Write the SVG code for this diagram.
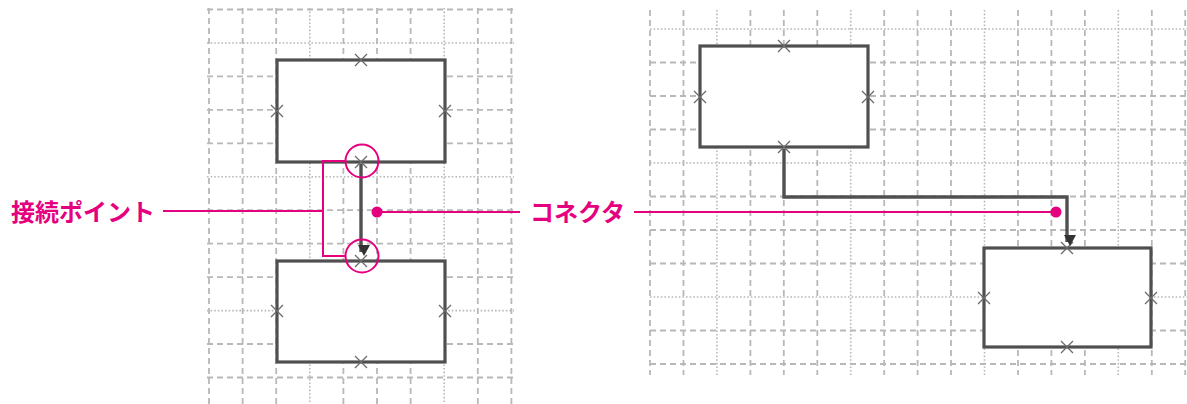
<svg xmlns="http://www.w3.org/2000/svg" width="1187" height="404" viewBox="0 0 1187 404">
<style>
.dash{stroke:#b8b8b8;stroke-width:1.8;stroke-dasharray:6 4;fill:none}
.dot{stroke:#b8b8b8;stroke-width:1.6;stroke-dasharray:1.6 2;fill:none}
.box{fill:#fff;stroke:#4f4f4f;stroke-width:3.2}
.cp{stroke:#6a6a6a;stroke-width:1.3;fill:none}
.conn{stroke:#505050;stroke-width:3.4;fill:none}
.mg{stroke:#e4007f;stroke-width:2;fill:none}
.mgdot{fill:#e4007f}
.lbl{font-family:"Noto Sans CJK JP","Noto Sans",sans-serif;font-size:24px;font-weight:bold;fill:#e4007f}
</style>
<defs>
<path id="x" d="M-6,-6 L6,6 M-6,6 L6,-6"/>
<marker id="arr" markerUnits="userSpaceOnUse" markerWidth="14" markerHeight="14" refX="7" refY="10" orient="auto-start-reverse" viewBox="0 0 14 14">
<path d="M1,0 L13,0 L7,11 Z" fill="#333" transform="rotate(-90 7 7)"/>
</marker>
</defs>
<rect width="1187" height="404" fill="#fff"/>
<g id="grid-left">
<line class="dash" x1="209" y1="8" x2="209" y2="404"/>
<line class="dash" x1="242.6" y1="8" x2="242.6" y2="404"/>
<line class="dash" x1="276.2" y1="8" x2="276.2" y2="404"/>
<line class="dot" x1="309.8" y1="8" x2="309.8" y2="404"/>
<line class="dash" x1="343.4" y1="8" x2="343.4" y2="404"/>
<line class="dash" x1="377" y1="8" x2="377" y2="404"/>
<line class="dash" x1="410.6" y1="8" x2="410.6" y2="404"/>
<line class="dot" x1="444.2" y1="8" x2="444.2" y2="404"/>
<line class="dash" x1="477.8" y1="8" x2="477.8" y2="404"/>
<line class="dash" x1="511.4" y1="8" x2="511.4" y2="404"/>
<line class="dash" x1="207" y1="9.5" x2="514" y2="9.5"/>
<line class="dot" x1="207" y1="43" x2="514" y2="43"/>
<line class="dash" x1="207" y1="76.4" x2="514" y2="76.4"/>
<line class="dash" x1="207" y1="109.9" x2="514" y2="109.9"/>
<line class="dash" x1="207" y1="143.3" x2="514" y2="143.3"/>
<line class="dot" x1="207" y1="176.8" x2="514" y2="176.8"/>
<line class="dash" x1="207" y1="210.2" x2="514" y2="210.2"/>
<line class="dash" x1="207" y1="243.7" x2="514" y2="243.7"/>
<line class="dash" x1="207" y1="277.1" x2="514" y2="277.1"/>
<line class="dot" x1="207" y1="310.6" x2="514" y2="310.6"/>
<line class="dash" x1="207" y1="344" x2="514" y2="344"/>
<line class="dash" x1="207" y1="377.5" x2="514" y2="377.5"/>
</g>
<g id="grid-right">
<line class="dash" x1="650" y1="10" x2="650" y2="375"/>
<line class="dash" x1="683.5" y1="10" x2="683.5" y2="375"/>
<line class="dot" x1="716.9" y1="10" x2="716.9" y2="375"/>
<line class="dash" x1="750.4" y1="10" x2="750.4" y2="375"/>
<line class="dash" x1="783.8" y1="10" x2="783.8" y2="375"/>
<line class="dash" x1="817.3" y1="10" x2="817.3" y2="375"/>
<line class="dot" x1="850.7" y1="10" x2="850.7" y2="375"/>
<line class="dash" x1="884.2" y1="10" x2="884.2" y2="375"/>
<line class="dash" x1="917.6" y1="10" x2="917.6" y2="375"/>
<line class="dash" x1="951" y1="10" x2="951" y2="375"/>
<line class="dot" x1="984.5" y1="10" x2="984.5" y2="375"/>
<line class="dash" x1="1018" y1="10" x2="1018" y2="375"/>
<line class="dash" x1="1051.4" y1="10" x2="1051.4" y2="375"/>
<line class="dash" x1="1084.9" y1="10" x2="1084.9" y2="375"/>
<line class="dot" x1="1118.3" y1="10" x2="1118.3" y2="375"/>
<line class="dash" x1="1151.8" y1="10" x2="1151.8" y2="375"/>
<line class="dash" x1="1185.2" y1="10" x2="1185.2" y2="375"/>
<line class="dot" x1="650" y1="29" x2="1187" y2="29"/>
<line class="dash" x1="650" y1="62.5" x2="1187" y2="62.5"/>
<line class="dash" x1="650" y1="96" x2="1187" y2="96"/>
<line class="dash" x1="650" y1="129.5" x2="1187" y2="129.5"/>
<line class="dot" x1="650" y1="163" x2="1187" y2="163"/>
<line class="dash" x1="650" y1="196.5" x2="1187" y2="196.5"/>
<line class="dash" x1="650" y1="230" x2="1187" y2="230"/>
<line class="dash" x1="650" y1="263.5" x2="1187" y2="263.5"/>
<line class="dot" x1="650" y1="297" x2="1187" y2="297"/>
<line class="dash" x1="650" y1="330.5" x2="1187" y2="330.5"/>
<line class="dash" x1="650" y1="364" x2="1187" y2="364"/>
</g>
<g id="node-left-top">
<rect class="box" x="277" y="60" width="168" height="102"/>
<use href="#x" class="cp" x="361" y="60"/>
<use href="#x" class="cp" x="277" y="111"/>
<use href="#x" class="cp" x="445" y="111"/>
<use href="#x" class="cp" x="361" y="162"/>
</g>
<g id="node-left-bottom">
<rect class="box" x="277" y="261" width="168" height="101"/>
<use href="#x" class="cp" x="361" y="261"/>
<use href="#x" class="cp" x="277" y="311"/>
<use href="#x" class="cp" x="445" y="311"/>
<use href="#x" class="cp" x="361" y="362"/>
</g>
<g id="node-right-top">
<rect class="box" x="700" y="46" width="168" height="101"/>
<use href="#x" class="cp" x="784" y="46"/>
<use href="#x" class="cp" x="700" y="97"/>
<use href="#x" class="cp" x="868" y="97"/>
<use href="#x" class="cp" x="784" y="147"/>
</g>
<g id="node-right-bottom">
<rect class="box" x="984" y="248" width="167" height="99"/>
<use href="#x" class="cp" x="1067" y="248"/>
<use href="#x" class="cp" x="984" y="298"/>
<use href="#x" class="cp" x="1151" y="298"/>
<use href="#x" class="cp" x="1067" y="347"/>
</g>
<g id="connectors">
<path class="conn" d="M361,164 V252" marker-end="url(#arr)"/>
<path class="conn" d="M784,149 V197 H1067 V242" marker-end="url(#arr)"/>
</g>
<g id="label-connection-point">
<text class="lbl" x="11" y="221">接続ポイント</text>
<path class="mg" d="M163,211 H323 M346,161 H323 V256 H346"/>
<circle class="mg" cx="362" cy="161" r="16.5"/>
<circle class="mg" cx="362" cy="256" r="16.5"/>
</g>
<g id="label-connector">
<text class="lbl" x="530" y="221">コネクタ</text>
<path class="mg" d="M377,212 H520 M634,212 H1056"/>
<circle class="mgdot" cx="377" cy="212" r="5.5"/>
<circle class="mgdot" cx="1056" cy="212" r="5.5"/>
</g>
</svg>
